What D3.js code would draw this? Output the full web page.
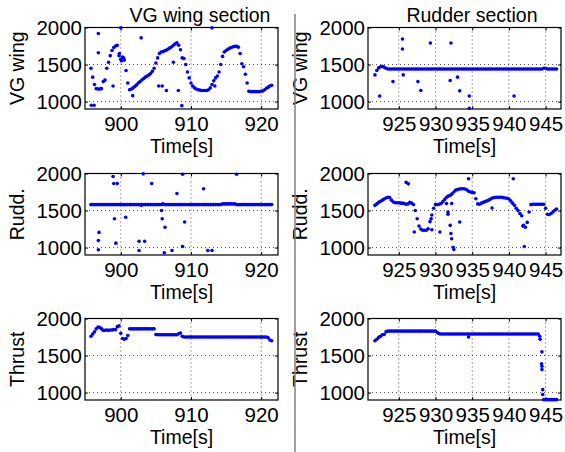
<!DOCTYPE html>
<html>
<head>
<meta charset="utf-8">
<script src="https://cdn.jsdelivr.net/npm/d3@7"></script>
<style>
body { margin: 0; background: #fff; }
svg text { font-family: "Liberation Sans", Arial, Helvetica, sans-serif; fill: #000; }
</style>
</head>
<body>
<svg id="chart" width="565" height="452"></svg>
<script>
// sample clock of the logged signals (s)
var leftT0 = 895.75, rightT0 = 921.75, sampleStep = 0.25;

var leftXDomain = [894.9, 922.4];
var rightXDomain = [920.8, 947.1];
var leftXTicks = [900, 910, 920];
var rightXTicks = [925, 930, 935, 940, 945];
var yDomain = [900, 2000];
var yTicks = [1000, 1500, 2000];

var titles = ['VG wing section', 'Rudder section'];
var rowLabels = ['VG wing', 'Rudd.', 'Thrust'];

// ---- VG wing section (left column) ----
var vgWingLeft = [1450, 1330, 1230, 1175, 1170, 1170, 1175, 1270, 1290, 1450,
	1530, 1620, 1690, 1730, 1750, 1760, 1620, 1570, 1600, 1560,
	1420, 1250, 1160, 1170, 1185, 1205, 1225, 1250, 1270, 1290,
	1310, 1330, 1345, 1360, 1380, 1410, 1450, 1520, 1590, 1650,
	1670, 1675, 1685, 1695, 1710, 1725, 1740, 1760, 1780, 1795,
	1760, 1700, 1590, 1580, 1500, 1400, 1320, 1250, 1210, 1185,
	1170, 1160, 1155, 1150, 1150, 1150, 1150, 1160, 1185, 1230,
	1280, 1320, 1345, 1400, 1500, 1610, 1670, 1690, 1705, 1720,
	1730, 1740, 1745, 1745, 1735, 1650, 1510, 1470, 1370, 1250,
	1140, 1135, 1135, 1135, 1135, 1135, 1135, 1140, 1145, 1160,
	1180, 1195, 1210, 1220];
var vgWingLeftOut = [[896.8, 1920], [896.8, 1660], [895.8, 950], [896.2, 950], [898.9, 1210],
	[900.0, 1995], [899.8, 1650], [900.1, 1550], [900.4, 1590], [902.9, 1860], [901.7, 1080],
	[905.4, 1210], [905.9, 1210], [906.5, 1150], [907.5, 1530], [908.2, 1150], [908.7, 945],
	[913.0, 1995], [913.4, 1210]];

var ruddLeft = [1580, 1580, 1580, 1580, 1580, 1580, 1580, 1580, 1580, 1580,
	1580, 1580, 1580, 1580, 1580, 1580, 1580, 1580, 1580, 1580,
	1580, 1580, 1580, 1580, 1580, 1580, 1580, 1580, 1580, 1580,
	1580, 1580, 1580, 1580, 1580, 1580, 1580, 1580, 1580, 1580,
	1580, 1590, 1580, 1580, 1580, 1580, 1580, 1580, 1580, 1580,
	1580, 1580, 1580, 1580, 1580, 1580, 1580, 1580, 1580, 1580,
	1580, 1580, 1580, 1580, 1580, 1580, 1580, 1580, 1580, 1580,
	1580, 1580, 1580, 1580, 1580, 1590, 1590, 1590, 1590, 1590,
	1590, 1590, 1590, 1580, 1580, 1580, 1580, 1580, 1580, 1580,
	1580, 1580, 1580, 1580, 1580, 1580, 1580, 1580, 1580, 1580,
	1580, 1580, 1580, 1580];
var ruddLeftOut = [[896.8, 970], [896.8, 1095], [896.9, 1205], [898.9, 1960], [899.0, 1865],
	[899.5, 1865], [899.1, 1390], [899.3, 1060], [900.7, 1410], [902.6, 1085], [903.4, 1085],
	[902.6, 960], [903.2, 1995], [904.4, 1865], [902.9, 1570], [905.8, 1500], [905.9, 1390],
	[906.3, 1275], [906.2, 930], [907.3, 960], [908.0, 1730], [908.8, 1990], [908.8, 1015],
	[909.1, 1345], [911.8, 1795], [912.4, 960], [913.0, 960], [916.5, 1990]];

var thrustLeft = [1760, 1790, 1820, 1860, 1885, 1880, 1860, 1840, 1840, 1845,
	1840, 1845, 1845, 1850, 1850, 1890, 1900, 1800, 1730, 1720,
	1730, 1770, 1860, 1860, 1860, 1860, 1860, 1860, 1860, 1860,
	1860, 1860, 1860, 1860, 1860, 1860, 1860, 1785, 1780, 1780,
	1780, 1780, 1780, 1780, 1780, 1780, 1780, 1780, 1780, 1780,
	1795, 1805, 1760, 1750, 1750, 1750, 1750, 1750, 1750, 1750,
	1750, 1750, 1750, 1750, 1750, 1750, 1750, 1750, 1750, 1750,
	1750, 1750, 1750, 1750, 1750, 1750, 1750, 1750, 1750, 1750,
	1750, 1750, 1750, 1750, 1750, 1750, 1750, 1750, 1750, 1750,
	1750, 1750, 1750, 1750, 1750, 1750, 1750, 1750, 1750, 1750,
	1750, 1740, 1710, 1700];
var thrustLeftOut = [];

// ---- Rudder section (right column) ----
var vgWingRight = [1360, 1420, 1455, 1470, 1475, 1465, 1450, 1440, 1440, 1440,
	1440, 1440, 1440, 1440, 1440, 1440, 1440, 1440, 1440, 1440,
	1440, 1440, 1440, 1440, 1440, 1440, 1440, 1440, 1440, 1440,
	1440, 1440, 1440, 1440, 1440, 1440, 1440, 1440, 1440, 1440,
	1440, 1440, 1440, 1440, 1440, 1440, 1440, 1440, 1440, 1440,
	1440, 1440, 1440, 1440, 1440, 1440, 1440, 1440, 1440, 1440,
	1440, 1440, 1440, 1440, 1440, 1440, 1440, 1440, 1440, 1440,
	1440, 1440, 1440, 1440, 1440, 1440, 1440, 1440, 1440, 1440,
	1440, 1440, 1440, 1440, 1440, 1440, 1440, 1440, 1440, 1440,
	1440, 1440, 1450, 1450, 1440, 1440, 1440, 1440, 1440, 1440];
var vgWingRightOut = [[922.4, 1075], [924.2, 1270], [925.5, 1845], [925.5, 1710], [925.6, 1360],
	[927.6, 1270], [928.0, 1150], [929.3, 1790], [932.0, 1285], [932.1, 1790], [933.0, 1330],
	[933.3, 1145], [934.6, 1075], [934.6, 910], [940.7, 1075]];

var ruddRight = [1570, 1590, 1610, 1625, 1640, 1655, 1670, 1680, 1675, 1640,
	1615, 1605, 1605, 1605, 1600, 1600, 1595, 1585, 1590, 1610,
	1600, 1580, 1500, 1390, 1290, 1250, 1235, 1235, 1235, 1255,
	1350, 1440, 1530, 1580, 1580, 1585, 1595, 1620, 1650, 1680,
	1695, 1705, 1725, 1750, 1775, 1785, 1790, 1795, 1795, 1790,
	1780, 1760, 1750, 1745, 1740, 1660, 1590, 1585, 1600, 1610,
	1620, 1630, 1640, 1655, 1670, 1675, 1680, 1680, 1680, 1680,
	1675, 1670, 1665, 1655, 1630, 1600, 1570, 1530, 1500, 1460,
	1430, 1300, 1275, 1340, 1480, 1580, 1585, 1585, 1585, 1585,
	1585, 1585, 1585, 1530, 1450, 1445, 1460, 1480, 1505, 1520];
var ruddRightOut = [[926.0, 1880], [926.3, 1860], [927.1, 1210], [929.5, 1240], [929.4, 1390],
	[930.6, 1210], [931.5, 1595], [932.2, 1595], [931.7, 1480], [931.7, 1450], [932.0, 1300],
	[932.1, 1190], [932.2, 1120], [932.4, 1005], [932.5, 975], [933.3, 1345], [934.5, 1930],
	[937.7, 1535], [940.6, 1930], [942.1, 1015], [941.9, 1290]];

var thrustRight = [1700, 1720, 1745, 1760, 1780, 1785, 1820, 1830, 1830, 1830,
	1830, 1830, 1830, 1830, 1830, 1830, 1830, 1830, 1830, 1830,
	1830, 1830, 1830, 1830, 1830, 1830, 1830, 1830, 1830, 1830,
	1830, 1830, 1830, 1830, 1810, 1795, 1790, 1790, 1790, 1790,
	1790, 1790, 1790, 1790, 1790, 1790, 1790, 1790, 1790, 1790,
	1790, 1790, 1790, 1790, 1790, 1790, 1790, 1790, 1790, 1790,
	1790, 1790, 1790, 1790, 1790, 1790, 1790, 1790, 1790, 1790,
	1790, 1790, 1790, 1790, 1790, 1790, 1790, 1790, 1790, 1790,
	1790, 1790, 1790, 1790, 1790, 1790, 1790, 1790, 1790, 1790,
	1720, 1550, 905, 905, 905, 905, 905, 905, 905, 905];
var thrustRightOut = [[934.5, 1750], [944.2, 1760], [944.45, 1390], [944.5, 1355], [944.5, 1310],
	[944.6, 1040], [944.6, 975]];

var svg = d3.select('#chart');

var plotW = 193, plotH = 81.5;
var colLeft = [85, 368];
var rowTop = [27.5, 173.5, 318.5];
var fontSize = 19.5;
var tickFontSize = 20.5;

var columns = [
	{xDomain: leftXDomain, xTicks: leftXTicks, t0: leftT0, series: [vgWingLeft, ruddLeft, thrustLeft], extra: [vgWingLeftOut, ruddLeftOut, thrustLeftOut]},
	{xDomain: rightXDomain, xTicks: rightXTicks, t0: rightT0, series: [vgWingRight, ruddRight, thrustRight], extra: [vgWingRightOut, ruddRightOut, thrustRightOut]}
];

/**
 * Draws one subplot: grid, box, ticks, labels and the dots
 */
var drawPanel = function(col, row) {

	var c = columns[col];
	var left = colLeft[col], top = rowTop[row];

	var x = d3.scaleLinear().domain(c.xDomain).range([left, left + plotW]);
	var y = d3.scaleLinear().domain(yDomain).range([top + plotH, top]);

	var g = svg.append('g');

	// dotted grid
	g.selectAll('.vgrid').data(c.xTicks).enter().append('line')
		.attr('x1', function(d) {return x(d);})
		.attr('x2', function(d) {return x(d);})
		.attr('y1', top).attr('y2', top + plotH)
		.attr('stroke', '#000').attr('stroke-width', 0.9)
		.attr('stroke-dasharray', '1,3').attr('opacity', 0.75);

	g.selectAll('.hgrid').data(yTicks).enter().append('line')
		.attr('x1', left).attr('x2', left + plotW)
		.attr('y1', function(d) {return y(d);})
		.attr('y2', function(d) {return y(d);})
		.attr('stroke', '#000').attr('stroke-width', 0.9)
		.attr('stroke-dasharray', '1,3').attr('opacity', 0.75);

	// axes with inward ticks
	g.append('g').attr('transform', 'translate(0,' + (top + plotH) + ')')
		.call(d3.axisBottom(x).tickValues(c.xTicks).tickSize(-3).tickPadding(7.5).tickFormat(d3.format('d')));
	g.append('g').attr('transform', 'translate(' + left + ',0)')
		.call(d3.axisLeft(y).tickValues(yTicks).tickSize(-3).tickPadding(3).tickFormat(d3.format('d')));
	g.append('g').attr('transform', 'translate(0,' + top + ')')
		.call(d3.axisTop(x).tickValues(c.xTicks).tickSize(-3).tickFormat(''));
	g.append('g').attr('transform', 'translate(' + (left + plotW) + ',0)')
		.call(d3.axisRight(y).tickValues(yTicks).tickSize(-3).tickFormat(''));

	g.selectAll('.domain').remove();
	g.selectAll('.tick line').attr('stroke', '#000');
	g.selectAll('.tick text')
		.style('font-family', '"Liberation Sans", Arial, sans-serif')
		.style('font-size', tickFontSize + 'px')
		.attr('fill', '#000');

	g.append('rect')
		.attr('x', left).attr('y', top)
		.attr('width', plotW).attr('height', plotH)
		.attr('fill', 'none').attr('stroke', '#000').attr('stroke-width', 1.2);

	// data dots
	var pts = c.series[row].map(function(v, i) {return [c.t0 + i * sampleStep, v];}).concat(c.extra[row]);

	g.selectAll('.dot').data(pts).enter().append('circle')
		.attr('class', 'dot')
		.attr('cx', function(d) {return x(d[0]);})
		.attr('cy', function(d) {return y(d[1]);})
		.attr('r', 1.8)
		.attr('fill', '#0000ff');

	// labels
	g.append('text')
		.attr('transform', 'translate(' + (left - 61) + ',' + (top + plotH / 2) + ') rotate(-90)')
		.attr('text-anchor', 'middle')
		.style('font-size', fontSize + 'px')
		.text(rowLabels[row]);

	g.append('text')
		.attr('x', left + plotW / 2)
		.attr('y', top + plotH + 44)
		.attr('text-anchor', 'middle')
		.style('font-size', fontSize + 'px')
		.text('Time[s]');
}

for (var r = 0; r < 3; r++) {
	drawPanel(0, r);
	drawPanel(1, r);
}

// column titles
svg.append('text').attr('x', 200).attr('y', 22).attr('text-anchor', 'middle')
	.style('font-size', fontSize + 'px').text(titles[0]);
svg.append('text').attr('x', 472).attr('y', 22).attr('text-anchor', 'middle')
	.style('font-size', fontSize + 'px').text(titles[1]);

// separator between the two sections
svg.append('line')
	.attr('x1', 295).attr('x2', 295)
	.attr('y1', 14).attr('y2', 452)
	.attr('stroke', '#808080').attr('stroke-width', 1.5);
</script>
</body>
</html>
